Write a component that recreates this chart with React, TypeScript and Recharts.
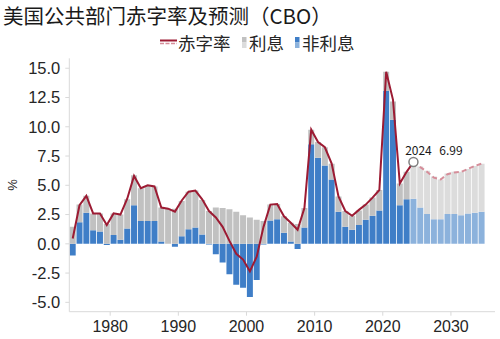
import React from 'react';
import { ComposedChart, Bar, Line, XAxis, YAxis, Cell, ReferenceDot } from 'recharts';

const years = [
  1974, 1975, 1976, 1977, 1978, 1979, 1980, 1981, 1982, 1983,
  1984, 1985, 1986, 1987, 1988, 1989, 1990, 1991, 1992, 1993,
  1994, 1995, 1996, 1997, 1998, 1999, 2000, 2001, 2002, 2003,
  2004, 2005, 2006, 2007, 2008, 2009, 2010, 2011, 2012, 2013,
  2014, 2015, 2016, 2017, 2018, 2019, 2020, 2021, 2022, 2023,
  2024, 2025, 2026, 2027, 2028, 2029, 2030, 2031, 2032, 2033, 2034,
];

// 赤字率 (% of GDP)
const deficit = [
  0.45, 3.3, 4.1, 2.6, 2.6, 1.6, 2.6, 2.5, 3.85, 5.8,
  4.75, 5.0, 4.9, 3.1, 3.0, 2.75, 3.7, 4.45, 4.55, 3.8,
  2.8, 2.25, 1.45, 0.25, -0.85, -1.35, -2.35, -1.1, 1.45, 3.35,
  3.4, 2.35, 1.8, 1.2, 3.05, 9.75, 8.7, 8.25, 6.85, 4.05,
  2.8, 2.4, 2.9, 3.35, 3.95, 4.6, 14.7, 12.3, 5.15, 6.15,
  6.99, 6.55, 6.15, 5.65, 5.5, 5.95, 6.1, 6.15, 6.4, 6.65, 6.85,
];

// 利息
const interest = [
  1.45, 1.5, 1.45, 1.45, 1.55, 1.7, 1.85, 2.15, 2.5, 2.55,
  2.8, 3.0, 2.95, 2.9, 3.0, 3.0, 3.0, 3.2, 3.15, 2.95,
  2.8, 3.1, 3.05, 2.95, 2.75, 2.45, 2.25, 2.05, 1.95, 1.35,
  1.3, 1.4, 1.6, 1.7, 1.65, 1.25, 1.35, 1.55, 1.35, 1.3,
  1.35, 1.2, 1.25, 1.3, 1.55, 1.75, 1.65, 1.55, 1.85, 2.35,
  3.15, 3.5, 3.7, 3.65, 3.4, 3.45, 3.6, 3.7, 3.8, 4.0, 4.1,
];

// 非利息
const nonInterest = [
  -1.0, 1.85, 2.65, 1.15, 1.05, -0.1, 0.75, 0.35, 1.3, 3.3,
  1.95, 1.95, 1.95, 0.2, 0.0, -0.25, 0.65, 1.25, 1.4, 0.8,
  -0.05, -0.9, -1.6, -2.6, -3.5, -3.75, -4.55, -3.1, -0.05, 2.0,
  2.1, 0.95, 0.2, -0.45, 1.4, 8.5, 7.35, 6.7, 5.5, 2.75,
  1.45, 1.2, 1.6, 2.05, 2.4, 2.85, 13.05, 10.6, 3.3, 3.8,
  3.85, 3.1, 2.55, 2.1, 2.1, 2.55, 2.55, 2.45, 2.6, 2.65, 2.75,
];

const yTicks = [-5, -2.5, 0, 2.5, 5, 7.5, 10, 12.5, 15];
const xTickYears = [1980, 1990, 2000, 2010, 2020, 2030];
const forecastStart = 2024;
const annotationYear = 2024;
const annotationValue = 6.99;

const title = '美国公共部门赤字率及预测（CBO）';
const legendLabels = ['赤字率', '利息', '非利息'];

const COLORS = {
  line: '#9C1B33',
  lineFc: '#D68E9A',
  blue: '#3F7EC7',
  blueFc: '#8CB2DC',
  gray: '#C1C1C1',
  grayFc: '#DCDCDC',
  axis: '#D9D9D9',
  text: '#262626',
};

const data = years.map((year, i) => ({
  year,
  interest: interest[i],
  nonInterest: nonInterest[i],
  hist: year <= forecastStart ? deficit[i] : null,
  fc: year >= forecastStart ? deficit[i] : null,
}));

const latin = '"Liberation Sans", Arial, sans-serif';
const cjk = '"Noto Sans CJK SC", "Noto Sans", sans-serif';

const XTick = (props: any) => {
  const { x, y, payload } = props;
  if (!xTickYears.includes(payload.value)) return <g />;
  const off = typeof payload.offset === 'number' && payload.offset > 0 ? payload.offset : 3.41;
  const x0 = x - off;
  return (
    <g>
      <line x1={x0} x2={x0} y1={y - 9} y2={y - 5} stroke={COLORS.axis} strokeWidth={1} />
      <text x={x0} y={y} dy="0.71em" textAnchor="middle" fontSize={16} fontFamily={latin} fill={COLORS.text}>
        {payload.value}
      </text>
    </g>
  );
};

const AnnotationShape = (props: any) => {
  const { cx, cy } = props;
  return (
    <g>
      <circle cx={cx} cy={cy} r={4.5} fill="#ffffff" stroke="#808080" strokeWidth={1.5} />
      <text x={cx - 8.3} y={cy - 6.7} fontSize={12} fontFamily={cjk} fill="#1a1a1a">
        {annotationYear}
      </text>
      <text x={cx + 25.8} y={cy - 6.7} fontSize={12} fontFamily={cjk} fill="#1a1a1a">
        {annotationValue.toFixed(2)}
      </text>
    </g>
  );
};

export default function App() {
  return (
    <div style={{ position: 'absolute', left: 0, top: 0, width: 500, height: 339, background: '#fff' }}>
      <ComposedChart
        width={500}
        height={339}
        data={data}
        stackOffset="sign"
        barCategoryGap={0.4}
        margin={{ top: 58.3, right: 5, bottom: 2.3, left: 0 }}
      >
        <XAxis
          dataKey="year"
          type="category"
          height={25}
          interval={0}
          padding={{ left: 0, right: 10 }}
          tickLine={false}
          tickSize={4}
          tickMargin={5}
          axisLine={{ stroke: COLORS.axis }}
          tick={<XTick />}
        />
        <YAxis
          type="number"
          width={69.3}
          domain={[-5.8, 15.85]}
          ticks={yTicks}
          allowDataOverflow
          tickFormatter={(v: number) => v.toFixed(1)}
          tickSize={4}
          tickMargin={5}
          tickLine={{ stroke: COLORS.axis }}
          axisLine={{ stroke: COLORS.axis }}
          tick={{ fontSize: 16.5, fontFamily: latin, fill: COLORS.text }}
        />
        <Bar dataKey="nonInterest" stackId="a" isAnimationActive={false}>
          {data.map((d) => (
            <Cell key={`n${d.year}`} fill={d.year >= forecastStart ? COLORS.blueFc : COLORS.blue} />
          ))}
        </Bar>
        <Bar dataKey="interest" stackId="a" isAnimationActive={false}>
          {data.map((d) => (
            <Cell key={`i${d.year}`} fill={d.year >= forecastStart ? COLORS.grayFc : COLORS.gray} />
          ))}
        </Bar>
        <Line
          dataKey="hist"
          type="linear"
          stroke={COLORS.line}
          strokeWidth={2}
          dot={false}
          activeDot={false}
          isAnimationActive={false}
        />
        <Line
          dataKey="fc"
          type="linear"
          stroke={COLORS.lineFc}
          strokeWidth={2}
          strokeDasharray="5 3"
          dot={false}
          activeDot={false}
          isAnimationActive={false}
        />
        <ReferenceDot
          x={annotationYear}
          y={annotationValue}
          r={4.5}
          shape={<AnnotationShape />}
        />
      </ComposedChart>
      <svg
        width={500}
        height={339}
        style={{ position: 'absolute', left: 0, top: 0, pointerEvents: 'none' }}
      >
        <text x={3} y={23.5} fontSize={20.5} fontFamily={cjk} fill="#1a1a1a">
          {title}
        </text>
        <line x1={160} x2={177} y1={40.5} y2={40.5} stroke={COLORS.line} strokeWidth={2} />
        <line x1={160} x2={177} y1={43.5} y2={43.5} stroke={COLORS.lineFc} strokeWidth={1.5} strokeDasharray="4 1.5" />
        <text x={178} y={50} fontSize={17.5} fontFamily={cjk} fill={COLORS.text}>
          {legendLabels[0]}
        </text>
        <rect x={242} y={37} width={4.5} height={5.5} fill={COLORS.gray} />
        <rect x={242} y={42.5} width={4.5} height={5.5} fill={COLORS.grayFc} />
        <text x={249} y={50} fontSize={17.5} fontFamily={cjk} fill={COLORS.text}>
          {legendLabels[1]}
        </text>
        <rect x={295} y={37} width={4.5} height={5.5} fill={COLORS.blue} />
        <rect x={295} y={42.5} width={4.5} height={5.5} fill={COLORS.blueFc} />
        <text x={302} y={50} fontSize={17.5} fontFamily={cjk} fill={COLORS.text}>
          {legendLabels[2]}
        </text>
        <text
          x={12}
          y={185}
          transform="rotate(-90, 12, 185)"
          textAnchor="middle"
          dominantBaseline="central"
          fontSize={13}
          fontFamily={latin}
          fill={COLORS.text}
        >
          %
        </text>
      </svg>
    </div>
  );
}
